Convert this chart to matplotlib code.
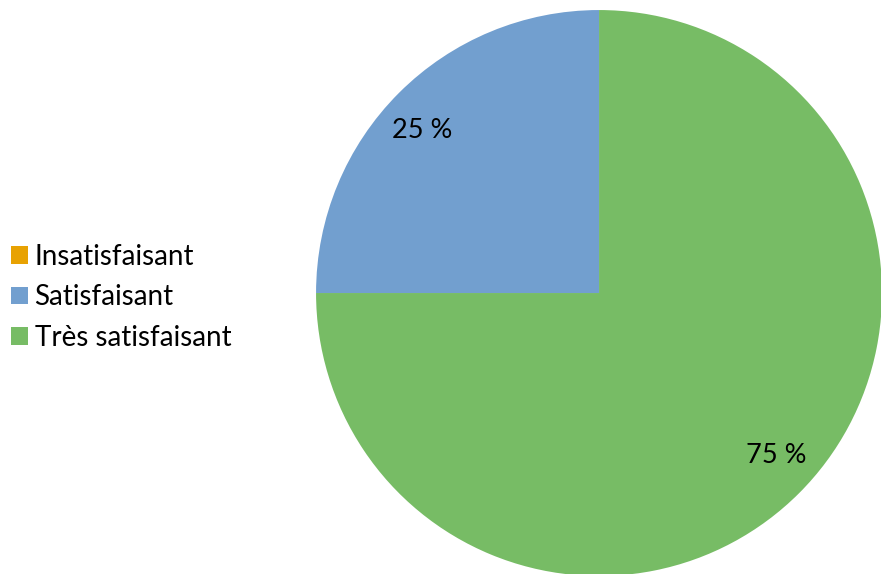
import numpy as np
import matplotlib.pyplot as plt
from matplotlib.patches import Patch

labels = ["Insatisfaisant", "Satisfaisant", "Très satisfaisant"]
values = [0, 25, 75]
colors = ["#E8A202", "#729FCF", "#77BC65"]

plt.rcParams['font.family'] = ['Lato', 'DejaVu Sans']

fig = plt.figure(figsize=(8.81, 5.74), dpi=100)
ax = fig.add_axes([0.3587, -0.0035, 0.6425, 0.986])

wedges, texts, autotexts = ax.pie(
    values, colors=colors, startangle=90, counterclock=True,
    autopct=lambda p: f"{p:.0f} %" if p > 0 else "",
    pctdistance=0.85, radius=1,
    wedgeprops=dict(linewidth=0), textprops=dict(fontsize=19.5, color="#000000"))

# turn the percentage labels a little further round
for t in autotexts:
    x, y = t.get_position()
    r = np.hypot(x, y)
    a = np.arctan2(y, x) + np.radians(2.5)
    t.set_position((r * np.cos(a), r * np.sin(a)))

ax.set_xlim(-1, 1)
ax.set_ylim(-1, 1)
ax.set_aspect('equal')
ax.axis('off')

handles = [Patch(facecolor=c, edgecolor='none') for c in colors]
fig.legend(handles, labels, loc='center left', bbox_to_anchor=(0.003, 0.482),
           frameon=False, fontsize=20, handlelength=0.6, handleheight=0.6,
           handletextpad=0.25, labelspacing=0.52, borderaxespad=0.0,
           borderpad=0.3)

fig.savefig("out.png", dpi=100)
